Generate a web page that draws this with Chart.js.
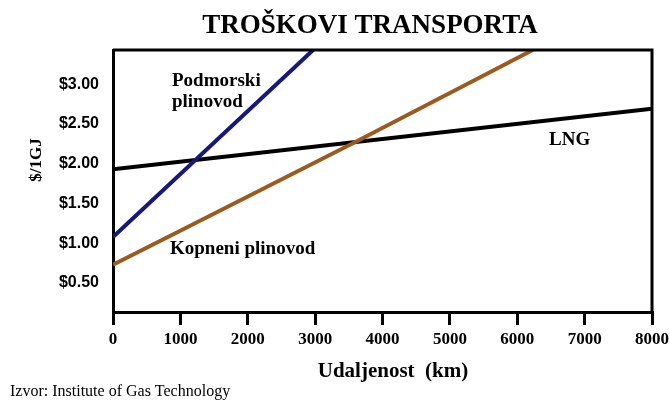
<!DOCTYPE html>
<html>
<head>
<meta charset="utf-8">
<script src="https://cdn.jsdelivr.net/npm/chart.js@4"></script>
<style>
  body { margin: 0; background: #fff; }
  canvas { display: block; }
</style>
</head>
<body>
<canvas id="costChart" width="670" height="402"></canvas>
<script>
// chart data
const xTickValues = [0, 1000, 2000, 3000, 4000, 5000, 6000, 7000, 8000];
const yTickValues = [0.5, 1.0, 1.5, 2.0, 2.5, 3.0];

const podmorskiKm = [0, 2970];
const podmorskiCost = [1.08, 3.43];

const kopneniKm = [0, 3590, 6230];
const kopneniCost = [0.73, 2.27, 3.43];

const lngKm = [0, 8000];
const lngCost = [1.93, 2.69];

const SERIF = '"Liberation Serif", "Times New Roman", serif';
const SANS = '"Liberation Sans", Arial, sans-serif';

function toPoints(xs, ys) {
    return xs.map((x, i) => ({ x: x, y: ys[i] }));
}

// title, axis titles, labels and frame
const textPlugin = {
    id: 'textPlugin',
    afterDraw(chart) {
        const ctx = chart.ctx;
        const area = chart.chartArea;
        ctx.save();

        // top + right frame
        ctx.strokeStyle = '#000';
        ctx.lineWidth = 3;
        ctx.beginPath();
        ctx.moveTo(area.left, area.top);
        ctx.lineTo(area.right, area.top);
        ctx.lineTo(area.right, area.bottom);
        ctx.stroke();

        ctx.fillStyle = '#000';

        // title
        ctx.font = 'bold 27px ' + SERIF;
        ctx.textAlign = 'center';
        ctx.textBaseline = 'middle';
        ctx.fillText('TROŠKOVI TRANSPORTA', 370, 26);

        // x title
        ctx.font = 'bold 21px ' + SERIF;
        ctx.textBaseline = 'alphabetic';
        ctx.fillText('Udaljenost  (km)', 393, 377);

        // y title
        ctx.save();
        ctx.translate(37, 160);
        ctx.rotate(-Math.PI / 2);
        ctx.font = 'bold 17px ' + SERIF;
        ctx.textBaseline = 'middle';
        ctx.fillText('$/1GJ', 0, 0);
        ctx.restore();

        // line labels
        ctx.font = 'bold 19px ' + SERIF;
        ctx.textAlign = 'left';
        ctx.textBaseline = 'alphabetic';
        ctx.fillText('Podmorski', 172, 86);
        ctx.fillText('plinovod', 172, 107);
        ctx.fillText('LNG', 549, 145);
        ctx.fillText('Kopneni plinovod', 170, 254);

        // source
        ctx.font = '16px ' + SERIF;
        ctx.fillText('Izvor: Institute of Gas Technology', 10, 396);

        ctx.restore();
    }
};

const ctx = document.getElementById('costChart').getContext('2d');
const costChart = new Chart(ctx, {
    type: 'line',
    data: {
        datasets: [
            {
                label: 'Podmorski plinovod',
                data: toPoints(podmorskiKm, podmorskiCost),
                borderColor: '#17177c',
                borderWidth: 4,
                pointRadius: 0,
                fill: false
            },
            {
                label: 'Kopneni plinovod',
                data: toPoints(kopneniKm, kopneniCost),
                borderColor: '#9c5b1e',
                borderWidth: 4,
                pointRadius: 0,
                cubicInterpolationMode: 'monotone',
                fill: false
            },
            {
                label: 'LNG',
                data: toPoints(lngKm, lngCost),
                borderColor: '#000000',
                borderWidth: 4,
                pointRadius: 0,
                fill: false
            }
        ]
    },
    options: {
        responsive: false,
        animation: false,
        layout: {
            padding: { top: 50, right: 18, left: 0, bottom: 0 }
        },
        plugins: {
            legend: { display: false },
            tooltip: { enabled: false }
        },
        scales: {
            x: {
                type: 'linear',
                min: 0,
                max: 8000,
                afterBuildTicks: scale => {
                    scale.ticks = xTickValues.map(v => ({ value: v }));
                },
                afterFit: scale => {
                    scale.height = 90;
                    scale.paddingLeft = 0;
                    scale.paddingRight = 0;
                },
                grid: {
                    drawOnChartArea: false,
                    color: '#000',
                    lineWidth: 3,
                    tickLength: 13
                },
                border: { color: '#000', width: 3 },
                ticks: {
                    color: '#000',
                    padding: 4,
                    maxRotation: 0,
                    font: { family: SERIF, size: 17, weight: 'bold' },
                    callback: v => String(v)
                }
            },
            y: {
                type: 'linear',
                min: 0.136,
                max: 3.43,
                afterBuildTicks: scale => {
                    scale.ticks = yTickValues.map(v => ({ value: v }));
                },
                afterFit: scale => {
                    scale.width = 113;
                },
                grid: {
                    drawOnChartArea: false,
                    drawTicks: false
                },
                border: { color: '#000', width: 3 },
                ticks: {
                    color: '#000',
                    padding: 14,
                    font: { family: SANS, size: 16, weight: 'bold' },
                    callback: v => '$' + Number(v).toFixed(2)
                }
            }
        }
    },
    plugins: [textPlugin]
});
</script>
</body>
</html>
